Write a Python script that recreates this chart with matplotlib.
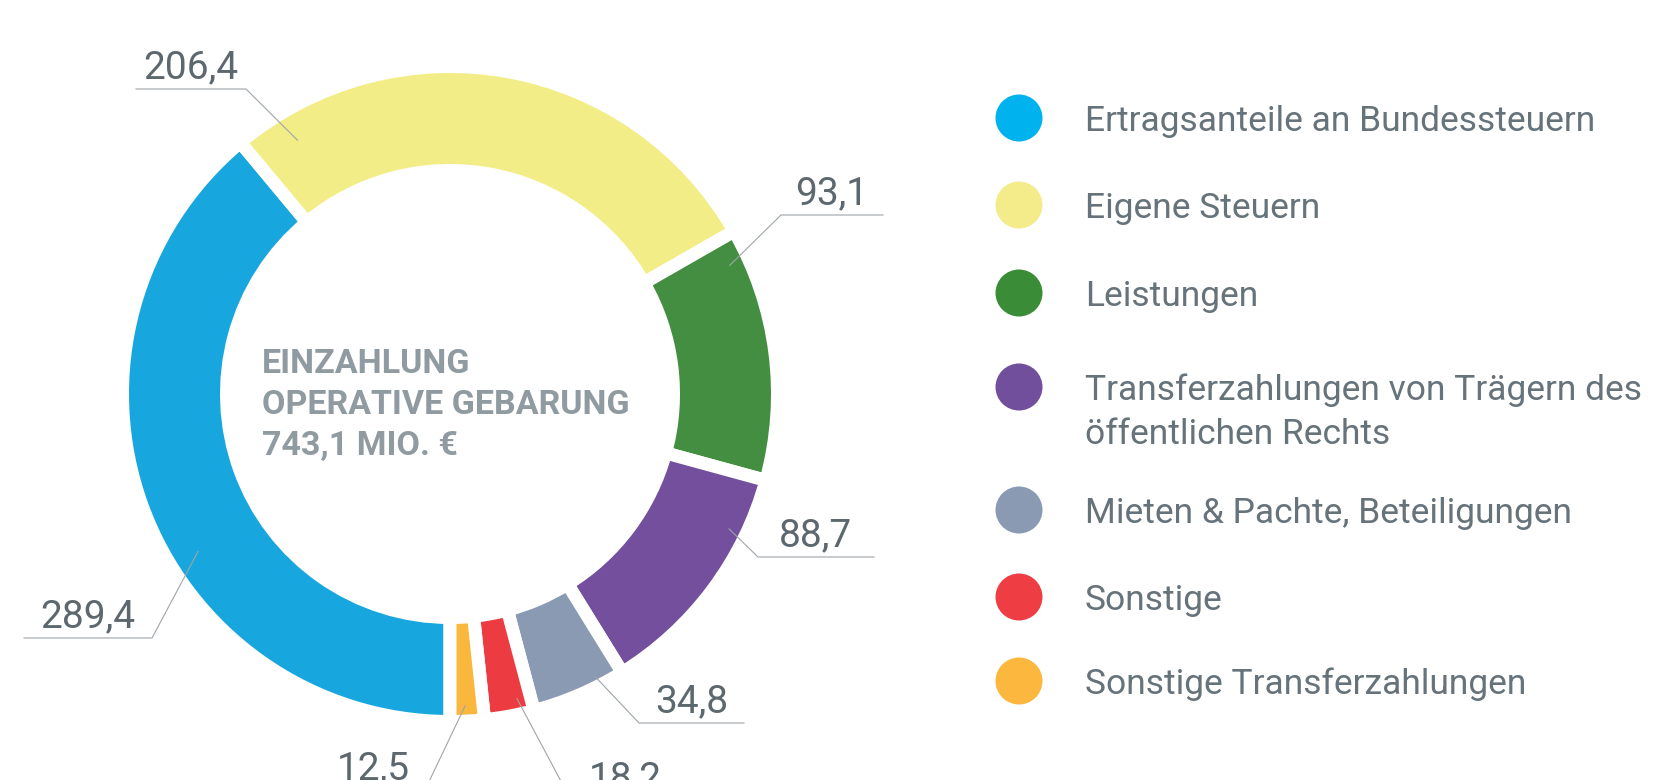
import numpy as np
import matplotlib
matplotlib.use("Agg")
import matplotlib.pyplot as plt
from matplotlib.patches import Circle

# --------------------------------------------------
# Data (Mio. €)
# --------------------------------------------------
categories = [
    "Ertragsanteile an Bundessteuern",
    "Eigene Steuern",
    "Leistungen",
    "Transferzahlungen von Trägern des\nöffentlichen Rechts",
    "Mieten & Pachte, Beteiligungen",
    "Sonstige",
    "Sonstige Transferzahlungen",
]
values = [289.4, 206.4, 93.1, 88.7, 34.8, 18.2, 12.5]
value_labels = ["289,4", "206,4", "93,1", "88,7", "34,8", "18,2", "12,5"]
center_lines = ["EINZAHLUNG", "OPERATIVE GEBARUNG", "743,1 MIO. €"]

ring_colors = ["#18A6DE", "#F3ED88", "#448E41", "#744F9D", "#8A9AB3", "#EC3C42", "#FAB73D"]
legend_colors = ["#00B2EE", "#F4EC8A", "#3A8C36", "#724F9D", "#8A9AB2", "#EE3E43", "#FBB73E"]

# --------------------------------------------------
# Figure in pixel units (y measured from the top)
# --------------------------------------------------
W, H = 1673, 780
fig = plt.figure(figsize=(W / 100, H / 100), dpi=100)
ax = fig.add_axes([0, 0, 1, 1])

def py(y):
    return H - y

cx, cy = 450, 394
gap_px = 13
r_out, r_in = 321 + gap_px / 2, 230 - gap_px / 2

wedges, _ = ax.pie(
    values,
    colors=ring_colors,
    startangle=-90,
    counterclock=False,
    radius=r_out,
    center=(cx, py(cy)),
    wedgeprops=dict(width=r_out - r_in, edgecolor="white",
                    linewidth=gap_px * 72 / 100, joinstyle="miter"),
)

ax.set_xlim(0, W)
ax.set_ylim(0, H)
ax.set_aspect("auto")
ax.axis("off")

# --------------------------------------------------
# Value labels with leader lines
# --------------------------------------------------
label_font = dict(family="Roboto", weight="normal", size=28, color="#5C686E")
line_color = "#9EA5A9"

leaders = [
    # anchor angle (deg), anchor radius, elbow (x, y), underline end x
    (212.0, 297, (152, 638), 24),
    (121.0, 296, (246, 89), 136),
    (24.7, 308, (781, 215), 883),
    (-25.8, 310, (758, 557), 874),
    (-62.8, 318, (639, 723), 744),
    (-77.6, 312, (571, 800), 680),
    (-87.2, 312, (425, 790), 322),
]

for lab, (ang, r, (ex, ey), ux) in zip(value_labels, leaders):
    a = np.deg2rad(ang)
    axp, ayp = cx + r * np.cos(a), cy - r * np.sin(a)
    ax.plot([axp, ex, ux], [py(ayp), py(ey), py(ey)],
            color=line_color, lw=0.8, solid_joinstyle="miter")
    ax.text((ex + ux) / 2, py(ey - 11), lab, ha="center", va="baseline",
            **label_font)

# --------------------------------------------------
# Centre text
# --------------------------------------------------
for i, line in enumerate(center_lines):
    ax.text(262, py(373 + i * 41), line, ha="left", va="baseline",
            family="Roboto", weight="bold", size=24.5, color="#8F9BA0")

# --------------------------------------------------
# Legend
# --------------------------------------------------
legend_y = [118, 205, 293, 387, 510, 597, 681]
for col, cat, ly in zip(legend_colors, categories, legend_y):
    ax.add_patch(Circle((1019, py(ly)), 23.5, color=col, lw=0))
    for j, part in enumerate(cat.split("\n")):
        ax.text(1085, py(ly + 13 + j * 44), part, ha="left", va="baseline",
                family="Roboto", weight="normal", size=25.5, color="#66737A")

fig.savefig("out.png", dpi=100)
